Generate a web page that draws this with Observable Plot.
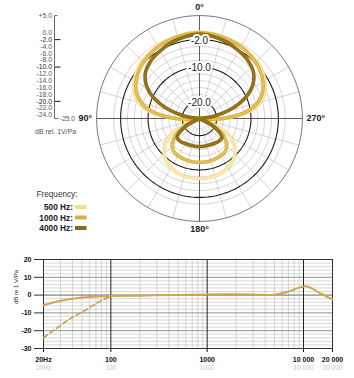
<!DOCTYPE html>
<html><head><meta charset="utf-8">
<script src="https://cdn.jsdelivr.net/npm/d3@7"></script>
<script src="https://cdn.jsdelivr.net/npm/@observablehq/plot@0.6"></script>
<style>
body{margin:0;background:#fff;font-family:"Liberation Sans",Arial,sans-serif;}
#wrap{position:relative;width:354px;height:378px;overflow:hidden;background:#fff}
#polar{position:absolute;left:0;top:0}
#freq{position:absolute;left:0;top:240px}
svg{overflow:visible}
</style></head>
<body><div id="wrap"><div id="polar"></div><div id="freq"></div></div>
<script>
// ---------- polar pattern data (dB, angle in degrees, 0° = front, counter-clockwise) ----------
const polarAngles = [0,10,20,30,40,50,60,70,80,90,100,110,120,130,140,150,160,170,180,
                     190,200,210,220,230,240,250,260,270,280,290,300,310,320,330,340,350];
const db500  = [0.2,0,-0.3,-0.7,-1.2,-1.8,-3.0,-5.0,-9,-18,-25,-22,-15,-11.5,-9.5,-8.5,-7.8,-7.5,-7.5,
                -7.5,-7.8,-8.5,-9.5,-11.5,-15,-22,-25,-18,-9,-5.0,-3.0,-1.8,-1.2,-0.7,-0.3,0];
const db1000 = [0,-0.2,-0.5,-0.9,-1.5,-2.3,-3.6,-5.8,-10,-18,-25,-25,-19,-15,-13,-12.5,-12.3,-12.2,-12.2,
                -12.2,-12.3,-12.5,-13,-15,-19,-25,-25,-18,-10,-5.8,-3.6,-2.3,-1.5,-0.9,-0.5,-0.2];
const db4000 = [-0.4,-0.8,-1.4,-2.2,-3.0,-4.4,-7.5,-13,-20,-25,-25,-25,-20,-16.5,-16.3,-16.6,-16.8,-16.8,-16.8,
                -16.8,-16.8,-16.6,-16.3,-16.5,-20,-25,-25,-25,-20,-13,-7.5,-4.4,-3.0,-2.2,-1.4,-0.8];
const seriesNames = ["500 Hz:", "1000 Hz:", "4000 Hz:"];
const seriesValues = [db500, db1000, db4000];
const seriesColors = ["#f2df90", "#d8b03e", "#8a6a12"];
const seriesInner  = ["#f9efc2", "#e6c86a", "#9c7b22"];

const ringLevels = [5,0,-2,-4,-6,-8,-10,-12,-14,-16,-18,-20,-22,-24];
const majorRings = [-2,-10,-20];
const scaleLabels = [5,0,-2,-4,-6,-8,-10,-12,-14,-16,-18,-20,-22,-24];
const scaleText = ["+5.0","0.0","-2.0","-4.0","-6.0","-8.0","-10.0","-12.0","-14.0","-16.0","-18.0","-20.0","-22.0","-24.0"];

// ---------- frequency response data ----------
const freqHz   = [20,30,40,50,70,100,200,500,1000,2000,3000,4700,7000,10400,15000,20000];
const respSolid= [-5.7,-3.2,-2.0,-1.3,-0.8,-0.5,-0.3,0.1,0.4,0.5,0.3,0.1,2.0,5.0,1.0,-2.4];
const freqDash = [20,30,40,50,70,80,100];
const respDash = [-24,-17,-12.5,-9.6,-4.8,-3,-0.7];
const freqTicks = [20,100,1000,10000,20000];
const freqTickText = ["20Hz","100","1000","10 000","20 000"];
const levelTicks = [20,10,0,-10,-20,-30];

// ---------- polar plot ----------
const W = 354, H = 240, CX = 199, CY = 118, PX = 3.43, FLOOR = -25;
const xs = px => (px - CX) / PX;
const ys = py => (CY - py) / PX;
const pol = (deg, db) => { const r = Math.max(db - FLOOR, 0), t = deg * Math.PI / 180; return {x: -r * Math.sin(t), y: r * Math.cos(t)}; };

const ringPts = [];
for (const lv of ringLevels) for (let a = 0; a < 360; a += 2) ringPts.push({lv, ...pol(a, lv)});
const spokes = [];
for (let a = 0; a < 360; a += 15) if (a % 90) { const p1 = pol(a, -22), p2 = pol(a, 5); spokes.push({x1:p1.x,y1:p1.y,x2:p2.x,y2:p2.y}); }

const curves = seriesValues.map((vals, i) => polarAngles.map((a, k) => ({s: i, ...pol(a, vals[k])})));

const R5 = 5 - FLOOR;
const polarMarks = [
  Plot.line(ringPts.filter(d => !majorRings.includes(d.lv) && d.lv !== 5), {x:"x", y:"y", z:"lv", curve:"linear-closed", stroke:"#b9b9b9", strokeWidth:0.6}),
  Plot.link(spokes, {x1:"x1", y1:"y1", x2:"x2", y2:"y2", stroke:"#b9b9b9", strokeWidth:0.6}),
  Plot.line(ringPts.filter(d => d.lv === 5), {x:"x", y:"y", curve:"linear-closed", stroke:"#555", strokeWidth:0.8}),
  Plot.line(ringPts.filter(d => majorRings.includes(d.lv)), {x:"x", y:"y", z:"lv", curve:"linear-closed", stroke:"#1a1a1a", strokeWidth:1.1}),
  Plot.link([{x1:0,y1:-R5,x2:0,y2:R5},{x1:-R5,y1:0,x2:R5,y2:0}], {x1:"x1",y1:"y1",x2:"x2",y2:"y2", stroke:"#333", strokeWidth:0.8}),
];
curves.forEach((c, i) => {
  polarMarks.push(Plot.line(c, {x:"x", y:"y", curve:"catmull-rom-closed", stroke:seriesColors[i], strokeWidth:3.6, strokeLinejoin:"round"}));
  polarMarks.push(Plot.line(c, {x:"x", y:"y", curve:"catmull-rom-closed", stroke:seriesInner[i], strokeWidth:1.2, strokeLinejoin:"round"}));
});
// ring labels on front axis
polarMarks.push(Plot.text(majorRings, {x:0, y: d => d - FLOOR, text: d => d.toFixed(1), fontSize:10, fill:"#222", stroke:"white", strokeWidth:4, dy:1}));
// angle labels
polarMarks.push(Plot.text(["0°"], {x:0, y:ys(7), text:d=>d, fontSize:9, fontWeight:"bold", fill:"#222"}));
polarMarks.push(Plot.text(["180°"], {x:0, y:ys(229), text:d=>d, fontSize:9, fontWeight:"bold", fill:"#222"}));
polarMarks.push(Plot.text(["90°"], {x:xs(78), y:0, text:d=>d, fontSize:9, fontWeight:"bold", fill:"#222", textAnchor:"start"}));
polarMarks.push(Plot.text(["270°"], {x:xs(306), y:0, text:d=>d, fontSize:9, fontWeight:"bold", fill:"#222", textAnchor:"start"}));
// left dB scale
polarMarks.push(Plot.link([{x1:xs(54),y1:R5,x2:xs(54),y2:0},{x1:xs(54),y1:0,x2:xs(58),y2:0}], {x1:"x1",y1:"y1",x2:"x2",y2:"y2", stroke:"#444", strokeWidth:0.8}));
polarMarks.push(Plot.link([5], {x1:xs(54), x2:xs(57), y1:d=>d-FLOOR, y2:d=>d-FLOOR, stroke:"#444", strokeWidth:0.8}));
polarMarks.push(Plot.link(majorRings, {x1:xs(54), x2:xs(60), y1:d=>d-FLOOR, y2:d=>d-FLOOR, stroke:"#222", strokeWidth:1}));
polarMarks.push(Plot.text(scaleLabels.map((v,i)=>({v, t:scaleText[i]})), {x:xs(51.5), y:d=>d.v-FLOOR, text:"t", textAnchor:"end", fontSize:6.8,
  fontWeight: d => majorRings.includes(d.v) ? "bold" : "normal", fill: d => majorRings.includes(d.v) ? "#222" : "#555"}));
polarMarks.push(Plot.text(["-25.0"], {x:xs(59.5), y:0, text:d=>d, textAnchor:"start", fontSize:6.5, fill:"#555"}));
polarMarks.push(Plot.text(["dB rel. 1V/Pa"], {x:xs(34.5), y:ys(131.5), text:d=>d, textAnchor:"start", fontSize:7, fill:"#555"}));
// legend
polarMarks.push(Plot.text(["Frequency:"], {x:xs(36), y:ys(194), text:d=>d, textAnchor:"start", fontSize:8.2, fill:"#333"}));
const legY = [207, 217.5, 228];
polarMarks.push(Plot.text(seriesNames.map((n,i)=>({n,i})), {x:xs(72.5), y:d=>ys(legY[d.i]), text:"n", textAnchor:"end", fontSize:8.3, fontWeight:"bold", fill:"#222"}));
polarMarks.push(Plot.rect(seriesNames.map((n,i)=>({n,i})), {x1:xs(75), x2:xs(86.5), y1:d=>ys(legY[d.i]-2), y2:d=>ys(legY[d.i]+2), fill:(d)=>seriesColors[d.i]}));

const polar = Plot.plot({
  width: W, height: H, margin: 0,
  x: {domain: [xs(0), xs(W)], axis: null},
  y: {domain: [ys(H), ys(0)], axis: null},
  style: {fontFamily: '"Liberation Sans", Arial, sans-serif', background: "transparent"},
  marks: polarMarks
});
document.getElementById("polar").appendChild(polar);

// ---------- frequency response ----------
const minorF = [];
for (const dec of [10,100,1000,10000]) for (let m = 2; m <= 9; m++) { const f = m*dec; if (f > 20 && f < 20000 && ![100,1000,10000].includes(f)) minorF.push(f); }
const minorL = d3.range(-30, 21, 2).filter(v => v % 10);
const fmt = d => freqTickText[freqTicks.indexOf(d)];

const freq = Plot.plot({
  width: 354, height: 138,
  marginLeft: 43, marginRight: 22, marginTop: 19, marginBottom: 30,
  x: {type: "log", domain: [20, 20000], axis: null},
  y: {domain: [-30, 20], axis: null},
  style: {fontFamily: '"Liberation Sans", Arial, sans-serif', fontSize: "7px", fontWeight: "bold", color: "#111", background: "transparent"},
  marks: [
    Plot.ruleY(minorL, {stroke: "#bdbdbd", strokeWidth: 0.6}),
    Plot.ruleX(minorF, {stroke: "#bdbdbd", strokeWidth: 0.6}),
    Plot.ruleY([20,10,-10,-20,-30], {stroke: "#777", strokeWidth: 0.8}),
    Plot.ruleY([0], {stroke: "#555", strokeWidth: 0.9}),
    Plot.ruleX([100,1000,10000], {stroke: "#222", strokeWidth: 1}),
    Plot.frame({stroke: "#333", strokeWidth: 1}),
    Plot.axisY({ticks: levelTicks, tickSize: 9, tickPadding: 3, tickFormat: d => String(d), stroke: "#333", label: null}),
    Plot.axisX({ticks: freqTicks, tickSize: 4, tickPadding: 5, tickFormat: fmt, label: null}),
    Plot.text(freqTicks, {x: d => d, frameAnchor: "bottom", dy: 21, text: fmt, fill: "#c8c8c8", fontWeight: "normal", fontSize: 6.5}),
    Plot.text(["dB re 1 V/Pa"], {frameAnchor: "left", dx: -27, rotate: -90, text: d => d, fontSize: 6, fontWeight: "normal", fill: "#222"}),
    Plot.line(freqDash.map((f,i)=>({f, v: respDash[i]})), {x: "f", y: "v", stroke: "#c9a45a", strokeWidth: 1.8, strokeDasharray: "5,3", curve: "monotone-x"}),
    Plot.line(freqHz.map((f,i)=>({f, v: respSolid[i]})), {x: "f", y: "v", stroke: "#d0a54c", strokeWidth: 2, curve: "monotone-x"})
  ]
});
document.getElementById("freq").appendChild(freq);
</script>
</body></html>
